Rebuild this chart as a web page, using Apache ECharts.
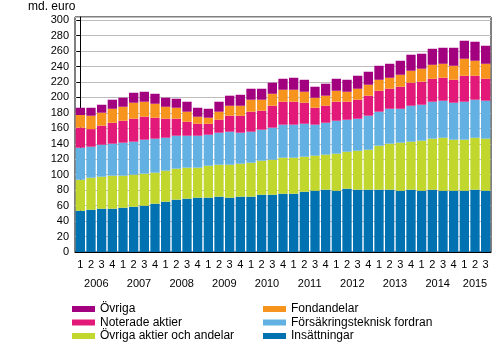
<!DOCTYPE html>
<html>
<head>
<meta charset="utf-8">
<script src="https://cdn.jsdelivr.net/npm/echarts@6/dist/echarts.min.js"></script>
<style>
  html, body { margin: 0; padding: 0; background: #fff; }
  #chart { width: 500px; height: 350px; }
</style>
</head>
<body>
<div id="chart"></div>
<script>
// quarterly, 2006 Q1 .. 2015 Q3
const years = ["2006", "2007", "2008", "2009", "2010", "2011", "2012", "2013", "2014", "2015"];
const quarterLabels = ["1", "2", "3", "4"];

const insattningar = [53.4, 54.7, 56.0, 56.0, 57.3, 58.6, 59.9, 62.5, 65.1, 67.7,
  69.0, 70.3, 70.3, 71.6, 70.3, 71.6, 71.6, 74.1, 74.1, 75.4,
  75.4, 78.0, 79.3, 80.6, 79.3, 81.9, 80.6, 80.6, 80.6, 80.6,
  79.3, 80.6, 79.3, 80.6, 79.3, 79.3, 79.3, 80.6, 79.3];
const ovrigaAktier = [40.1, 41.4, 41.4, 42.7, 41.4, 41.4, 41.4, 40.1, 40.1, 40.1,
  40.1, 38.8, 41.3, 41.3, 42.6, 42.6, 43.9, 44.0, 45.3, 46.6,
  46.6, 45.3, 45.3, 45.3, 47.9, 47.8, 50.4, 51.7, 56.9, 59.5,
  62.1, 62.1, 64.7, 66.0, 68.5, 66.0, 66.0, 67.2, 67.3];
const forsakring = [41.4, 40.1, 41.4, 41.4, 42.7, 42.7, 44.0, 44.0, 42.6, 42.6,
  41.3, 41.3, 40.1, 41.4, 42.7, 40.1, 40.1, 40.1, 41.4, 42.7,
  42.7, 42.6, 40.1, 41.3, 42.6, 41.4, 41.4, 44.0, 44.0, 45.2,
  43.9, 46.5, 46.5, 47.8, 47.9, 47.8, 49.1, 49.2, 49.1];
const noterade = [25.9, 22.8, 24.6, 27.1, 28.4, 29.7, 29.7, 27.1, 24.6, 22.0,
  18.1, 15.5, 14.2, 16.8, 20.7, 22.0, 25.9, 24.6, 28.4, 29.7,
  29.7, 27.2, 21.9, 22.0, 24.6, 23.3, 24.6, 25.9, 27.1, 25.9,
  28.5, 29.8, 29.8, 29.7, 29.7, 29.7, 33.6, 31.0, 28.4];
const fondandelar = [16.4, 17.3, 16.8, 18.1, 18.1, 20.7, 19.4, 18.1, 15.5, 14.2,
  13.0, 9.1, 7.8, 10.4, 12.9, 12.9, 15.5, 14.2, 15.5, 15.5,
  15.5, 14.2, 13.0, 13.0, 14.2, 12.9, 14.2, 14.2, 14.2, 14.2,
  15.5, 15.5, 16.8, 18.1, 18.1, 18.1, 22.0, 19.4, 19.4];
const ovriga = [9.4, 10.3, 10.3, 11.7, 11.7, 12.9, 12.9, 12.9, 11.7, 11.7,
  12.9, 11.6, 11.6, 12.9, 13.0, 14.2, 14.2, 14.2, 14.3, 14.2,
  15.5, 15.5, 14.2, 15.5, 15.5, 15.5, 16.8, 16.8, 18.1, 18.1,
  18.1, 20.7, 19.4, 20.7, 20.7, 23.3, 23.3, 24.6, 23.3];

const yTicks = { min: 0, max: 304, interval: 20 };

// category labels 1..4 repeated, and where each year label sits (middle of its quarters)
const categories = insattningar.map((_, i) => quarterLabels[i % 4]);
const yearCenters = years.map((_, y) => {
  const idx = categories.map((_, i) => i).filter(i => Math.floor(i / 4) === y);
  return idx.reduce((a, b) => a + b, 0) / idx.length;
});

const seriesDefs = [
  { name: "Insättningar", data: insattningar, color: "#0071b1" },
  { name: "Övriga aktier och andelar", data: ovrigaAktier, color: "#c1d72e" },
  { name: "Försäkringsteknisk fordran", data: forsakring, color: "#63b0e3" },
  { name: "Noterade aktier", data: noterade, color: "#e3197a" },
  { name: "Fondandelar", data: fondandelar, color: "#f7941e" },
  { name: "Övriga", data: ovriga, color: "#a2007e" },
];

const font = "'Liberation Sans', Arial, sans-serif";
const chart = echarts.init(document.getElementById("chart"), null, { renderer: "canvas" });

const legendBase = {
  orient: "vertical",
  top: 303,
  padding: 0,
  itemGap: 1.5,
  itemWidth: 23,
  itemHeight: 6,
  icon: "rect",
  selectedMode: false,
  textStyle: { fontFamily: font, fontSize: 12, color: "#000" },
};

chart.setOption({
  animation: false,
  textStyle: { fontFamily: font },
  grid: {
    left: 75, right: 9, top: 17, bottom: 98,
    show: true, borderColor: "#000", borderWidth: 1,
  },
  legend: [
    Object.assign({ left: 72, data: ["Övriga", "Noterade aktier", "Övriga aktier och andelar"] }, legendBase),
    Object.assign({ left: 263, data: ["Fondandelar", "Försäkringsteknisk fordran", "Insättningar"] }, legendBase),
  ],
  xAxis: [
    {
      type: "category",
      data: categories,
      axisLine: { lineStyle: { color: "#000" } },
      axisTick: { show: false },
      axisLabel: { interval: 0, margin: 7, fontSize: 11, color: "#000" },
    },
    {
      type: "value",
      position: "bottom",
      offset: 19,
      min: -0.5,
      max: categories.length - 0.5,
      axisLine: { show: false },
      axisTick: { show: false },
      splitLine: { show: false },
      axisLabel: {
        customValues: yearCenters,
        margin: 7,
        fontSize: 11,
        color: "#000",
        formatter: v => years[yearCenters.indexOf(v)] || "",
      },
    },
  ],
  yAxis: {
    type: "value",
    min: yTicks.min,
    max: yTicks.max,
    interval: yTicks.interval,
    name: "md. euro",
    nameLocation: "end",
    nameGap: 4,
    nameTextStyle: { fontSize: 12, color: "#000", align: "right", padding: [0, 5, 0, 0] },
    axisLine: { show: true, lineStyle: { color: "#000" } },
    axisTick: { show: true, length: 4, lineStyle: { color: "#000" } },
    axisLabel: { fontSize: 11, color: "#000", margin: 6, showMaxLabel: false },
    splitLine: { lineStyle: { color: "#bdbdbd", width: 1 } },
  },
  series: seriesDefs.map(s => ({
    name: s.name,
    type: "bar",
    stack: "total",
    data: s.data,
    barCategoryGap: "13%",
    itemStyle: { color: s.color },
  })),
});
</script>
</body>
</html>
